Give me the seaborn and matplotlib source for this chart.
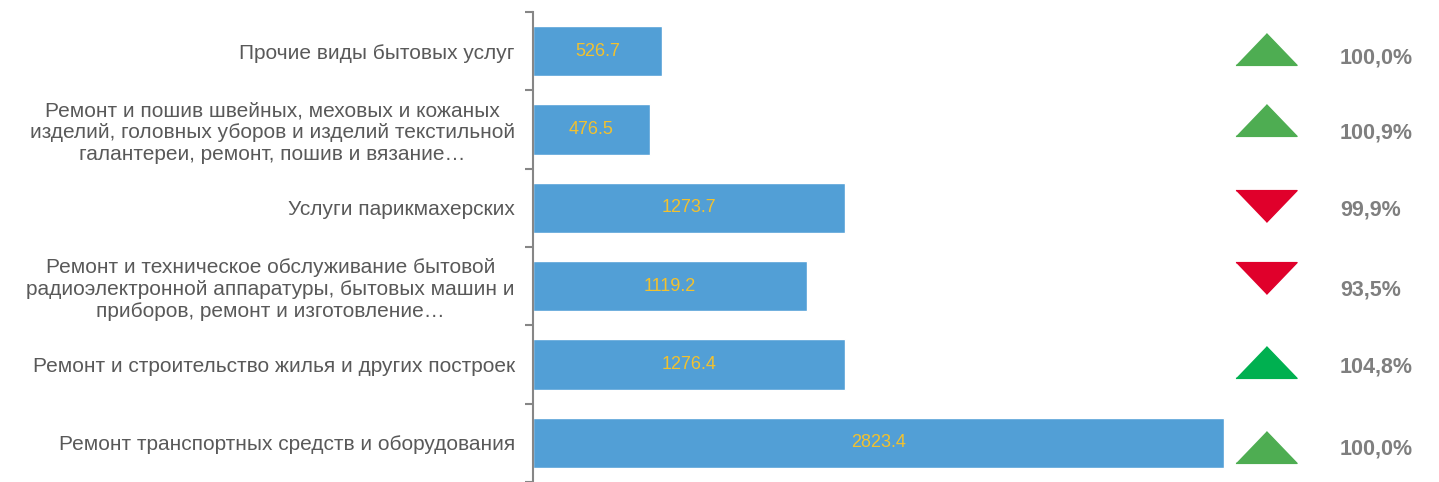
import pandas as pd
import matplotlib.pyplot as plt
import seaborn as sns
from matplotlib.transforms import blended_transform_factory

# Dati
categorie = [
    'Прочие виды бытовых услуг',
    'Ремонт и пошив швейных, меховых и кожаных\nизделий, головных уборов и изделий текстильной\nгалантереи, ремонт, пошив и вязание…',
    'Услуги парикмахерских',
    'Ремонт и техническое обслуживание бытовой\nрадиоэлектронной аппаратуры, бытовых машин и\nприборов, ремонт и изготовление…',
    'Ремонт и строительство жилья и других построек',
    'Ремонт транспортных средств и оборудования',
]
valori = [526.7, 476.5, 1273.7, 1119.2, 1276.4, 2823.4]
percentuali = ['100,0%', '100,9%', '99,9%', '93,5%', '104,8%', '100,0%']
direzione = ['up', 'up', 'down', 'down', 'up', 'up']
colori_freccia = ['#4EAD52', '#4EAD52', '#E0002B', '#E0002B', '#00B050', '#4EAD52']

df = pd.DataFrame({'cat': categorie, 'val': valori})

sns.set_style('white')
plt.rcParams['font.family'] = ['Liberation Sans', 'DejaVu Sans']

fig = plt.figure(figsize=(14.39, 4.82), dpi=100)
ax = fig.add_axes([533 / 1439, 0.0, 906 / 1439, 1 - 12 / 482])

sns.barplot(data=df, y='cat', x='val', color='#529FD6', saturation=1,
            width=0.64, orient='h', ax=ax)

ax.set_xlim(0, 906 / 0.2447)
ax.set_ylim(5.5, -0.5)
ax.set_xlabel('')
ax.set_ylabel('')
ax.set_xticks([])

# etichette valori
for i, v in enumerate(valori):
    ax.text(v / 2, i, f'{v:.1f}', ha='center', va='center',
            color='#F2C12E', fontsize=13)

# asse y
for s in ['top', 'right', 'bottom']:
    ax.spines[s].set_visible(False)
ax.spines['left'].set_color('#868686')
ax.spines['left'].set_linewidth(1.5)
ax.tick_params(axis='y', which='major', left=False, length=0, pad=13,
               labelsize=15, labelcolor='#595959')
ax.set_yticks(range(len(categorie)), categorie)
for t in ax.get_yticklabels():
    t.set_multialignment('center')
ax.set_yticks([i - 0.5 for i in range(len(categorie) + 1)], minor=True)
ax.tick_params(axis='y', which='minor', left=True, length=6, width=1.5,
               color='#868686')

# triangoli e percentuali
tr = blended_transform_factory(fig.transFigure, ax.transData)
up = [(-1, -0.52), (1, -0.52), (0, 0.52)]
down = [(-1, 0.52), (1, 0.52), (0, -0.52)]
off_tri = [-0.03, -0.12, -0.02, -0.1, -0.03, 0.05]
off_txt = [0.09, 0.04, 0.03, 0.05, 0.03, 0.08]
for i, (p, d, c) in enumerate(zip(percentuali, direzione, colori_freccia)):
    ax.plot([1266 / 1439], [i + off_tri[i]], transform=tr,
            marker=up if d == 'up' else down, markersize=44,
            color=c, linestyle='none', clip_on=False)
    ax.text(1340 / 1439, i + off_txt[i], p, transform=tr, ha='left',
            va='center', fontsize=15.5, fontweight='bold', color='#7F7F7F')

plt.savefig('out.png', dpi=100)
